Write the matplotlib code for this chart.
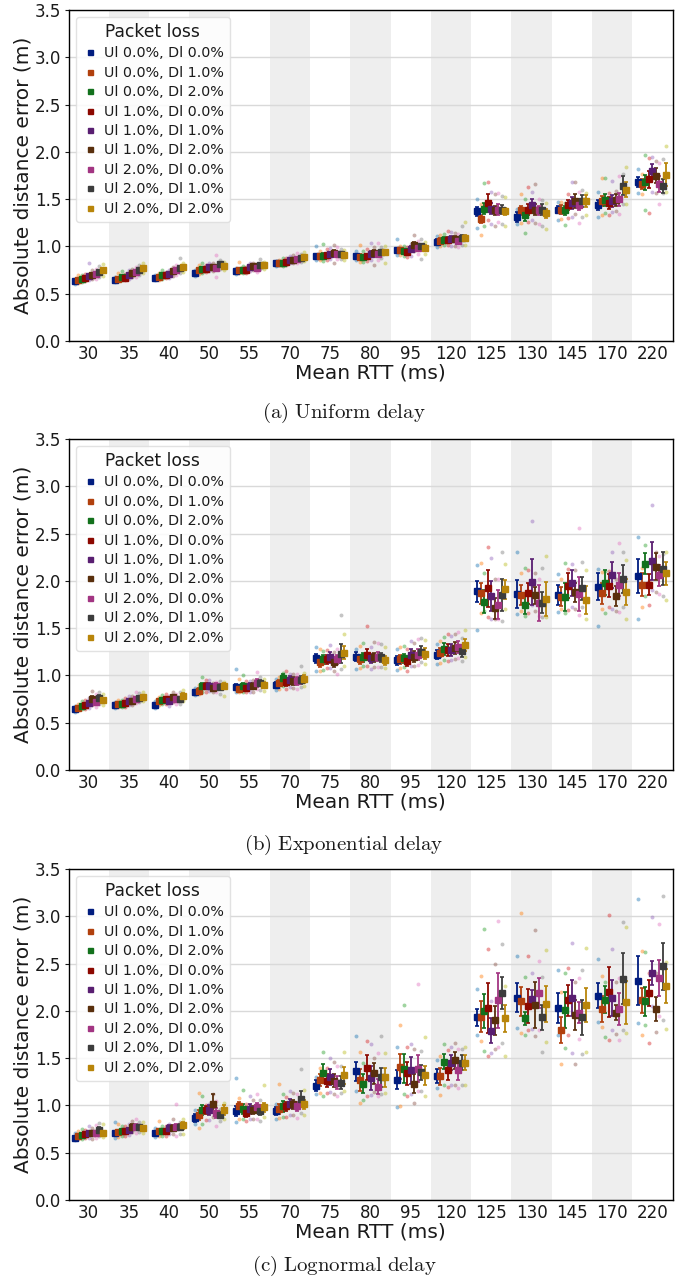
import matplotlib
matplotlib.use('Agg')
import matplotlib.pyplot as plt
from matplotlib.lines import Line2D
import numpy as np

plt.rcParams['font.family'] = ['DejaVu Sans']
plt.rcParams['mathtext.fontset'] = 'cm'

rtt_labels = ['30', '35', '40', '50', '55', '70', '75', '80', '95', '120',
              '125', '130', '145', '170', '220']
loss_labels = ['Ul 0.0%, Dl 0.0%', 'Ul 0.0%, Dl 1.0%', 'Ul 0.0%, Dl 2.0%',
               'Ul 1.0%, Dl 0.0%', 'Ul 1.0%, Dl 1.0%', 'Ul 1.0%, Dl 2.0%',
               'Ul 2.0%, Dl 0.0%', 'Ul 2.0%, Dl 1.0%', 'Ul 2.0%, Dl 2.0%']
dark_colors = ['#001c7f', '#b1400d', '#12711c', '#8c0800', '#591e71',
               '#592f0d', '#a23582', '#3c3c3c', '#b8850a']
light_colors = ['#1f77b4', '#ff7f0e', '#2ca02c', '#d62728', '#9467bd',
                '#8c564b', '#e377c2', '#7f7f7f', '#bcbd22']

# ---------------- (a) Uniform delay ----------------
uni_mean = [
    [0.63, 0.64, 0.66, 0.67, 0.69, 0.70, 0.71, 0.73, 0.75],
    [0.64, 0.66, 0.68, 0.67, 0.70, 0.72, 0.73, 0.75, 0.77],
    [0.67, 0.68, 0.70, 0.70, 0.71, 0.74, 0.75, 0.77, 0.78],
    [0.72, 0.75, 0.76, 0.76, 0.78, 0.78, 0.77, 0.81, 0.79],
    [0.74, 0.75, 0.75, 0.75, 0.78, 0.79, 0.77, 0.80, 0.80],
    [0.82, 0.83, 0.83, 0.84, 0.86, 0.86, 0.87, 0.88, 0.89],
    [0.90, 0.90, 0.90, 0.91, 0.92, 0.93, 0.92, 0.92, 0.91],
    [0.90, 0.89, 0.89, 0.90, 0.92, 0.93, 0.92, 0.94, 0.94],
    [0.96, 0.96, 0.95, 0.94, 0.97, 1.02, 0.98, 1.00, 0.98],
    [1.05, 1.06, 1.07, 1.07, 1.08, 1.08, 1.06, 1.09, 1.09],
    [1.37, 1.29, 1.40, 1.46, 1.40, 1.38, 1.39, 1.39, 1.37],
    [1.31, 1.38, 1.33, 1.39, 1.44, 1.39, 1.38, 1.39, 1.35],
    [1.39, 1.39, 1.38, 1.44, 1.46, 1.48, 1.44, 1.48, 1.48],
    [1.44, 1.48, 1.49, 1.46, 1.48, 1.49, 1.50, 1.64, 1.60],
    [1.68, 1.66, 1.68, 1.71, 1.80, 1.75, 1.66, 1.64, 1.76],
]
uni_err = [
    [0.010, 0.010, 0.010, 0.010, 0.015, 0.015, 0.015, 0.020, 0.020],
    [0.010, 0.010, 0.015, 0.010, 0.015, 0.015, 0.015, 0.020, 0.020],
    [0.010, 0.010, 0.015, 0.015, 0.015, 0.020, 0.020, 0.020, 0.020],
    [0.015, 0.015, 0.020, 0.020, 0.020, 0.020, 0.020, 0.020, 0.020],
    [0.015, 0.020, 0.020, 0.015, 0.020, 0.020, 0.020, 0.020, 0.020],
    [0.015, 0.020, 0.020, 0.020, 0.020, 0.020, 0.020, 0.020, 0.020],
    [0.020, 0.020, 0.030, 0.020, 0.020, 0.030, 0.020, 0.020, 0.020],
    [0.020, 0.030, 0.020, 0.020, 0.030, 0.030, 0.030, 0.020, 0.020],
    [0.020, 0.020, 0.020, 0.020, 0.030, 0.030, 0.030, 0.030, 0.030],
    [0.030, 0.030, 0.030, 0.030, 0.030, 0.030, 0.030, 0.030, 0.030],
    [0.050, 0.045, 0.060, 0.090, 0.060, 0.050, 0.060, 0.050, 0.040],
    [0.050, 0.050, 0.060, 0.060, 0.060, 0.060, 0.050, 0.060, 0.050],
    [0.040, 0.050, 0.050, 0.050, 0.060, 0.070, 0.060, 0.060, 0.060],
    [0.050, 0.050, 0.060, 0.060, 0.060, 0.060, 0.070, 0.100, 0.080],
    [0.050, 0.050, 0.080, 0.090, 0.070, 0.080, 0.080, 0.070, 0.120],
]
uni_lo = [
    [0.60, 0.61, 0.62, 0.63, 0.65, 0.66, 0.66, 0.68, 0.69],
    [0.62, 0.63, 0.64, 0.64, 0.66, 0.68, 0.68, 0.70, 0.72],
    [0.64, 0.65, 0.66, 0.67, 0.67, 0.69, 0.70, 0.72, 0.73],
    [0.69, 0.71, 0.72, 0.73, 0.74, 0.74, 0.68, 0.76, 0.75],
    [0.71, 0.72, 0.72, 0.72, 0.74, 0.75, 0.73, 0.76, 0.76],
    [0.79, 0.80, 0.79, 0.80, 0.82, 0.82, 0.83, 0.84, 0.85],
    [0.86, 0.86, 0.85, 0.86, 0.87, 0.82, 0.87, 0.87, 0.86],
    [0.86, 0.84, 0.84, 0.85, 0.86, 0.80, 0.86, 0.88, 0.82],
    [0.91, 0.91, 0.90, 0.89, 0.90, 0.95, 0.92, 0.87, 0.92],
    [0.99, 1.00, 1.01, 1.01, 1.00, 1.00, 0.99, 1.01, 1.01],
    [1.20, 1.12, 1.22, 1.28, 1.24, 1.22, 1.26, 1.24, 1.22],
    [1.24, 1.25, 1.14, 1.26, 1.28, 1.25, 1.24, 1.22, 1.18],
    [1.28, 1.29, 1.23, 1.30, 1.31, 1.34, 1.25, 1.31, 1.33],
    [1.31, 1.33, 1.35, 1.33, 1.36, 1.37, 1.34, 1.45, 1.45],
    [1.57, 1.55, 1.39, 1.35, 1.58, 1.57, 1.45, 1.56, 1.58],
]
uni_hi = [
    [0.66, 0.70, 0.70, 0.71, 0.83, 0.75, 0.76, 0.79, 0.81],
    [0.68, 0.72, 0.74, 0.71, 0.75, 0.76, 0.78, 0.80, 0.83],
    [0.70, 0.72, 0.75, 0.73, 0.75, 0.78, 0.80, 0.88, 0.83],
    [0.75, 0.80, 0.83, 0.80, 0.82, 0.83, 0.91, 0.86, 0.84],
    [0.77, 0.84, 0.79, 0.78, 0.83, 0.83, 0.81, 0.87, 0.84],
    [0.85, 0.86, 0.88, 0.88, 0.90, 0.91, 0.93, 0.92, 0.94],
    [1.00, 0.95, 1.03, 0.97, 0.98, 1.02, 0.99, 0.97, 0.96],
    [0.95, 1.01, 0.95, 0.97, 1.04, 0.99, 1.04, 0.99, 1.00],
    [1.08, 1.00, 1.00, 0.99, 1.03, 1.12, 1.06, 1.08, 1.05],
    [1.11, 1.12, 1.13, 1.16, 1.15, 1.14, 1.13, 1.22, 1.26],
    [1.50, 1.45, 1.67, 1.68, 1.58, 1.55, 1.56, 1.53, 1.52],
    [1.40, 1.55, 1.50, 1.63, 1.58, 1.66, 1.50, 1.49, 1.46],
    [1.47, 1.47, 1.46, 1.55, 1.68, 1.68, 1.58, 1.60, 1.56],
    [1.58, 1.72, 1.72, 1.56, 1.69, 1.59, 1.75, 1.77, 1.84],
    [1.82, 1.77, 1.97, 1.94, 1.95, 1.90, 1.88, 1.92, 2.06],
]

# ---------------- (b) Exponential delay ----------------
exp_mean = [
    [0.64, 0.66, 0.68, 0.69, 0.71, 0.75, 0.72, 0.76, 0.74],
    [0.69, 0.70, 0.70, 0.71, 0.73, 0.73, 0.75, 0.76, 0.77],
    [0.69, 0.73, 0.74, 0.75, 0.73, 0.77, 0.75, 0.75, 0.78],
    [0.83, 0.84, 0.89, 0.89, 0.89, 0.87, 0.89, 0.88, 0.89],
    [0.88, 0.86, 0.89, 0.87, 0.89, 0.89, 0.92, 0.92, 0.90],
    [0.90, 0.92, 0.97, 0.93, 0.95, 0.94, 0.94, 0.95, 0.96],
    [1.18, 1.14, 1.17, 1.17, 1.19, 1.14, 1.17, 1.23, 1.24],
    [1.20, 1.17, 1.19, 1.22, 1.18, 1.19, 1.20, 1.19, 1.16],
    [1.16, 1.17, 1.18, 1.15, 1.22, 1.20, 1.22, 1.25, 1.23],
    [1.22, 1.24, 1.28, 1.27, 1.27, 1.29, 1.30, 1.26, 1.32],
    [1.89, 1.87, 1.78, 1.92, 1.84, 1.71, 1.75, 1.85, 1.91],
    [1.86, 1.85, 1.75, 1.87, 1.99, 1.85, 1.77, 1.77, 1.81],
    [1.85, 1.83, 1.83, 1.95, 1.98, 1.88, 1.86, 1.92, 1.80],
    [1.94, 1.87, 1.98, 1.95, 2.06, 1.84, 1.96, 2.02, 1.88],
    [2.05, 1.96, 2.18, 1.96, 2.21, 2.15, 2.06, 2.13, 2.08],
]
exp_err = [
    [0.015, 0.015, 0.020, 0.020, 0.020, 0.030, 0.020, 0.030, 0.020],
    [0.015, 0.015, 0.015, 0.020, 0.020, 0.020, 0.020, 0.020, 0.020],
    [0.015, 0.020, 0.020, 0.020, 0.020, 0.020, 0.020, 0.020, 0.030],
    [0.020, 0.030, 0.030, 0.030, 0.030, 0.030, 0.030, 0.030, 0.030],
    [0.030, 0.030, 0.030, 0.030, 0.030, 0.030, 0.040, 0.030, 0.030],
    [0.030, 0.030, 0.040, 0.040, 0.040, 0.040, 0.040, 0.040, 0.040],
    [0.050, 0.050, 0.050, 0.050, 0.060, 0.050, 0.050, 0.100, 0.070],
    [0.050, 0.050, 0.050, 0.060, 0.050, 0.050, 0.050, 0.050, 0.050],
    [0.050, 0.050, 0.050, 0.050, 0.060, 0.060, 0.060, 0.060, 0.060],
    [0.050, 0.050, 0.060, 0.060, 0.060, 0.060, 0.060, 0.060, 0.060],
    [0.110, 0.110, 0.120, 0.200, 0.160, 0.110, 0.150, 0.170, 0.100],
    [0.150, 0.110, 0.100, 0.110, 0.240, 0.090, 0.190, 0.110, 0.180],
    [0.110, 0.100, 0.150, 0.130, 0.140, 0.100, 0.180, 0.120, 0.150],
    [0.140, 0.110, 0.130, 0.120, 0.140, 0.110, 0.120, 0.150, 0.140],
    [0.180, 0.120, 0.110, 0.110, 0.200, 0.140, 0.110, 0.170, 0.120],
]
exp_lo = [
    [0.61, 0.63, 0.64, 0.65, 0.66, 0.69, 0.67, 0.70, 0.69],
    [0.66, 0.67, 0.67, 0.67, 0.69, 0.69, 0.71, 0.72, 0.73],
    [0.66, 0.69, 0.70, 0.70, 0.68, 0.72, 0.70, 0.70, 0.73],
    [0.79, 0.80, 0.83, 0.83, 0.84, 0.82, 0.83, 0.80, 0.78],
    [0.83, 0.82, 0.83, 0.82, 0.82, 0.83, 0.86, 0.85, 0.84],
    [0.85, 0.86, 0.89, 0.86, 0.88, 0.87, 0.86, 0.88, 0.89],
    [1.05, 1.05, 1.06, 1.08, 1.08, 1.05, 1.02, 1.07, 1.10],
    [1.07, 1.08, 1.10, 1.10, 1.07, 1.09, 1.09, 1.09, 1.08],
    [1.06, 1.08, 1.09, 1.05, 1.10, 1.10, 1.11, 1.14, 1.12],
    [1.12, 1.13, 1.16, 1.15, 1.16, 1.17, 1.18, 1.15, 1.20],
    [1.48, 1.66, 1.68, 1.62, 1.60, 1.60, 1.60, 1.58, 1.70],
    [1.65, 1.68, 1.63, 1.66, 1.75, 1.68, 1.63, 1.62, 1.62],
    [1.67, 1.70, 1.66, 1.69, 1.72, 1.70, 1.64, 1.72, 1.60],
    [1.52, 1.70, 1.66, 1.72, 1.70, 1.68, 1.67, 1.72, 1.60],
    [1.60, 1.72, 1.84, 1.75, 1.90, 1.88, 1.86, 1.84, 1.80],
]
exp_hi = [
    [0.68, 0.70, 0.73, 0.74, 0.76, 0.84, 0.80, 0.82, 0.80],
    [0.72, 0.74, 0.74, 0.76, 0.78, 0.78, 0.82, 0.81, 0.82],
    [0.73, 0.77, 0.79, 0.80, 0.78, 0.82, 0.80, 0.82, 0.85],
    [0.87, 0.90, 0.98, 0.95, 0.95, 0.92, 0.93, 0.94, 0.93],
    [1.07, 0.96, 1.00, 0.94, 0.94, 0.95, 1.04, 0.98, 0.96],
    [0.96, 0.98, 1.03, 1.05, 1.01, 1.02, 1.02, 1.10, 1.03],
    [1.30, 1.28, 1.26, 1.27, 1.32, 1.25, 1.28, 1.64, 1.44],
    [1.28, 1.31, 1.34, 1.52, 1.30, 1.35, 1.34, 1.33, 1.30],
    [1.28, 1.30, 1.31, 1.28, 1.36, 1.34, 1.39, 1.40, 1.37],
    [1.33, 1.36, 1.41, 1.44, 1.42, 1.44, 1.46, 1.40, 1.48],
    [2.17, 2.19, 2.08, 2.36, 2.24, 2.02, 2.02, 2.31, 2.18],
    [2.31, 2.08, 2.14, 2.12, 2.63, 2.08, 2.02, 2.14, 2.26],
    [2.07, 2.02, 2.19, 2.13, 2.18, 2.12, 2.56, 2.20, 2.11],
    [2.13, 2.09, 2.10, 2.10, 2.30, 2.02, 2.40, 2.31, 2.22],
    [2.46, 2.14, 2.38, 2.00, 2.80, 2.31, 2.26, 2.28, 2.30],
]

# ---------------- (c) Lognormal delay ----------------
logn_mean = [
    [0.66, 0.68, 0.69, 0.70, 0.71, 0.71, 0.71, 0.74, 0.71],
    [0.71, 0.72, 0.73, 0.73, 0.74, 0.77, 0.77, 0.77, 0.76],
    [0.71, 0.73, 0.73, 0.73, 0.76, 0.76, 0.77, 0.77, 0.79],
    [0.87, 0.90, 0.95, 0.95, 0.95, 1.02, 0.92, 0.90, 0.95],
    [0.94, 0.99, 0.96, 0.92, 0.96, 0.95, 0.98, 0.94, 0.98],
    [0.94, 0.96, 0.99, 0.99, 1.02, 1.01, 0.99, 1.07, 1.01],
    [1.21, 1.27, 1.34, 1.26, 1.30, 1.26, 1.24, 1.24, 1.32],
    [1.36, 1.27, 1.23, 1.40, 1.29, 1.34, 1.20, 1.30, 1.30],
    [1.27, 1.41, 1.39, 1.34, 1.37, 1.23, 1.39, 1.35, 1.32],
    [1.31, 1.31, 1.46, 1.37, 1.45, 1.48, 1.37, 1.45, 1.45],
    [1.93, 1.94, 2.00, 2.03, 1.79, 1.90, 2.11, 2.19, 1.92],
    [2.14, 2.10, 1.92, 2.05, 2.13, 2.06, 2.19, 1.93, 2.07],
    [2.03, 1.80, 2.01, 2.11, 2.14, 1.96, 1.98, 1.93, 2.06],
    [2.16, 2.02, 2.12, 2.20, 2.14, 1.98, 2.02, 2.34, 2.09],
    [2.32, 2.11, 2.10, 2.19, 2.40, 2.02, 2.35, 2.47, 2.26],
]
logn_err = [
    [0.015, 0.015, 0.020, 0.020, 0.020, 0.020, 0.020, 0.030, 0.020],
    [0.020, 0.020, 0.020, 0.020, 0.020, 0.030, 0.030, 0.020, 0.020],
    [0.020, 0.020, 0.020, 0.020, 0.030, 0.030, 0.030, 0.030, 0.040],
    [0.040, 0.050, 0.050, 0.040, 0.050, 0.100, 0.050, 0.030, 0.050],
    [0.050, 0.050, 0.050, 0.040, 0.050, 0.040, 0.050, 0.040, 0.050],
    [0.040, 0.050, 0.060, 0.050, 0.050, 0.050, 0.050, 0.080, 0.050],
    [0.060, 0.060, 0.100, 0.070, 0.080, 0.070, 0.070, 0.070, 0.090],
    [0.100, 0.120, 0.100, 0.130, 0.130, 0.110, 0.080, 0.100, 0.100],
    [0.100, 0.130, 0.150, 0.120, 0.140, 0.100, 0.140, 0.080, 0.100],
    [0.070, 0.090, 0.080, 0.100, 0.080, 0.090, 0.100, 0.080, 0.080],
    [0.085, 0.160, 0.180, 0.260, 0.130, 0.150, 0.290, 0.170, 0.140],
    [0.150, 0.150, 0.070, 0.180, 0.090, 0.240, 0.160, 0.130, 0.190],
    [0.160, 0.140, 0.190, 0.160, 0.190, 0.160, 0.110, 0.190, 0.180],
    [0.130, 0.140, 0.140, 0.260, 0.190, 0.080, 0.170, 0.270, 0.230],
    [0.260, 0.130, 0.150, 0.140, 0.130, 0.130, 0.190, 0.250, 0.180],
]
logn_lo = [
    [0.63, 0.64, 0.64, 0.66, 0.66, 0.65, 0.66, 0.68, 0.67],
    [0.66, 0.67, 0.68, 0.68, 0.69, 0.72, 0.71, 0.72, 0.71],
    [0.67, 0.68, 0.68, 0.68, 0.70, 0.70, 0.68, 0.70, 0.70],
    [0.80, 0.76, 0.80, 0.85, 0.85, 0.88, 0.78, 0.84, 0.86],
    [0.82, 0.86, 0.86, 0.84, 0.86, 0.86, 0.86, 0.84, 0.88],
    [0.86, 0.87, 0.88, 0.88, 0.90, 0.90, 0.87, 0.92, 0.90],
    [1.12, 1.13, 1.10, 1.13, 1.14, 1.12, 1.10, 1.13, 1.15],
    [1.15, 1.03, 1.06, 1.10, 1.11, 1.14, 1.10, 1.12, 1.13],
    [0.98, 0.99, 1.12, 1.10, 1.12, 1.03, 1.15, 1.15, 1.10],
    [1.18, 1.11, 1.22, 1.20, 1.22, 1.22, 1.18, 1.22, 1.22],
    [1.74, 1.68, 1.58, 1.52, 1.55, 1.60, 1.62, 1.66, 1.52],
    [1.82, 1.77, 1.75, 1.80, 1.81, 1.73, 1.80, 1.56, 1.67],
    [1.75, 1.44, 1.61, 1.75, 1.55, 1.44, 1.70, 1.54, 1.57],
    [1.88, 1.83, 1.72, 1.69, 1.80, 1.76, 1.69, 1.80, 1.77],
    [1.87, 1.75, 1.85, 1.66, 2.05, 1.78, 1.95, 1.90, 1.81],
]
logn_hi = [
    [0.71, 0.73, 0.75, 0.74, 0.78, 0.76, 0.79, 0.81, 0.80],
    [0.82, 0.80, 0.78, 0.78, 0.80, 0.84, 0.86, 0.82, 0.82],
    [0.76, 0.84, 0.78, 0.78, 0.80, 0.86, 1.02, 0.82, 0.86],
    [0.95, 1.13, 1.10, 1.00, 1.02, 1.12, 1.05, 0.96, 1.03],
    [1.29, 1.08, 1.16, 1.02, 1.10, 1.06, 1.12, 1.06, 1.22],
    [1.02, 1.23, 1.12, 1.09, 1.15, 1.13, 1.12, 1.38, 1.16],
    [1.30, 1.40, 1.57, 1.40, 1.50, 1.46, 1.42, 1.42, 1.57],
    [1.73, 1.56, 1.45, 1.68, 1.65, 1.50, 1.55, 1.73, 1.55],
    [1.62, 1.85, 2.06, 1.62, 1.65, 1.60, 2.28, 1.58, 1.72],
    [1.48, 1.52, 1.65, 1.59, 1.62, 1.66, 1.60, 1.60, 1.62],
    [2.23, 2.37, 2.87, 2.65, 2.10, 2.50, 2.95, 2.71, 2.26],
    [2.58, 3.03, 2.36, 2.58, 2.40, 2.86, 2.53, 2.36, 2.64],
    [2.43, 2.20, 2.40, 2.45, 2.72, 2.30, 2.35, 2.43, 2.66],
    [2.55, 2.37, 2.30, 3.01, 2.65, 2.30, 2.35, 2.94, 2.89],
    [3.18, 2.63, 2.62, 2.40, 2.99, 2.40, 2.92, 3.21, 2.52],
]

panels = [
    ('(a)\\ Uniform\\ delay', uni_mean, uni_err, uni_lo, uni_hi),
    ('(b)\\ Exponential\\ delay', exp_mean, exp_err, exp_lo, exp_hi),
    ('(c)\\ Lognormal\\ delay', logn_mean, logn_err, logn_lo, logn_hi),
]

W, H = 688, 1283
fig = plt.figure(figsize=(W / 100, H / 100), dpi=100)

ax_left = 68.5 / W
ax_width = 604 / W
ax_height = 331 / H
ax_bottoms_px = [341, 770, 1200]
caption_px = [413, 845, 1266]

x = np.arange(len(rtt_labels))
offsets = np.linspace(-0.35, 0.35, len(loss_labels))
text_color = '#1a1a1a'

for k, (caption, mean, err, lo, hi) in enumerate(panels):
    bottom = (H - ax_bottoms_px[k]) / H
    ax = fig.add_axes([ax_left, bottom, ax_width, ax_height])
    for i in range(1, len(rtt_labels), 2):
        ax.axvspan(i - 0.5, i + 0.5, color='#eeeeee', lw=0, zorder=0)
    ax.set_axisbelow(True)
    ax.yaxis.grid(True, color='#d9d9d9', lw=1.0, zorder=0.5)

    mean_a = np.array(mean)
    err_a = np.array(err)
    lo_a = np.array(lo)
    hi_a = np.array(hi)
    for j in range(len(loss_labels)):
        xs = x + offsets[j]
        ax.scatter(xs, lo_a[:, j], s=8, color=light_colors[j], alpha=0.45,
                   lw=0, zorder=2)
        ax.scatter(xs, hi_a[:, j], s=8, color=light_colors[j], alpha=0.45,
                   lw=0, zorder=2)
    for j in range(len(loss_labels)):
        xs = x + offsets[j]
        ax.errorbar(xs, mean_a[:, j], yerr=err_a[:, j], fmt='s',
                    color=dark_colors[j], ms=3.8, elinewidth=1.3,
                    capsize=1.3, capthick=1.2, zorder=3)

    ax.set_xlim(-0.5, len(rtt_labels) - 0.5)
    ax.set_ylim(0, 3.5)
    ax.set_xticks(x)
    ax.set_xticklabels(rtt_labels)
    ax.set_yticks(np.arange(0, 3.51, 0.5))
    ax.set_yticklabels(['%.1f' % v for v in np.arange(0, 3.51, 0.5)])
    ax.tick_params(axis='both', labelsize=12, colors=text_color, pad=2)
    ax.tick_params(axis='x', length=0, pad=3)
    ax.tick_params(axis='y', length=3, width=0.8)
    for sp in ax.spines.values():
        sp.set_color('#000000')
        sp.set_linewidth(1.0)
    ax.set_xlabel('Mean RTT (ms)', fontsize=14.5, color=text_color, labelpad=0)
    ax.set_ylabel('Absolute distance error (m)', fontsize=14.5,
                  color=text_color, labelpad=2)

    handles = [Line2D([], [], marker='s', ls='', color=c, ms=3.6)
               for c in dark_colors]
    leg = ax.legend(handles, loss_labels, title='Packet loss', loc='upper left',
                    fontsize=10.3, title_fontsize=12.3, frameon=True,
                    framealpha=0.85, edgecolor='#dddddd', fancybox=True,
                    handletextpad=0.4, labelspacing=0.38, borderpad=0.4,
                    handlelength=1.2, borderaxespad=0.5)
    for t in leg.get_texts():
        t.set_color(text_color)
    leg.get_title().set_color(text_color)

    fig.text(0.5, (H - caption_px[k]) / H, '$\\mathrm{' + caption + '}$',
             ha='center', va='center', fontsize=15, color=text_color)

fig.savefig('out.png', dpi=100)
